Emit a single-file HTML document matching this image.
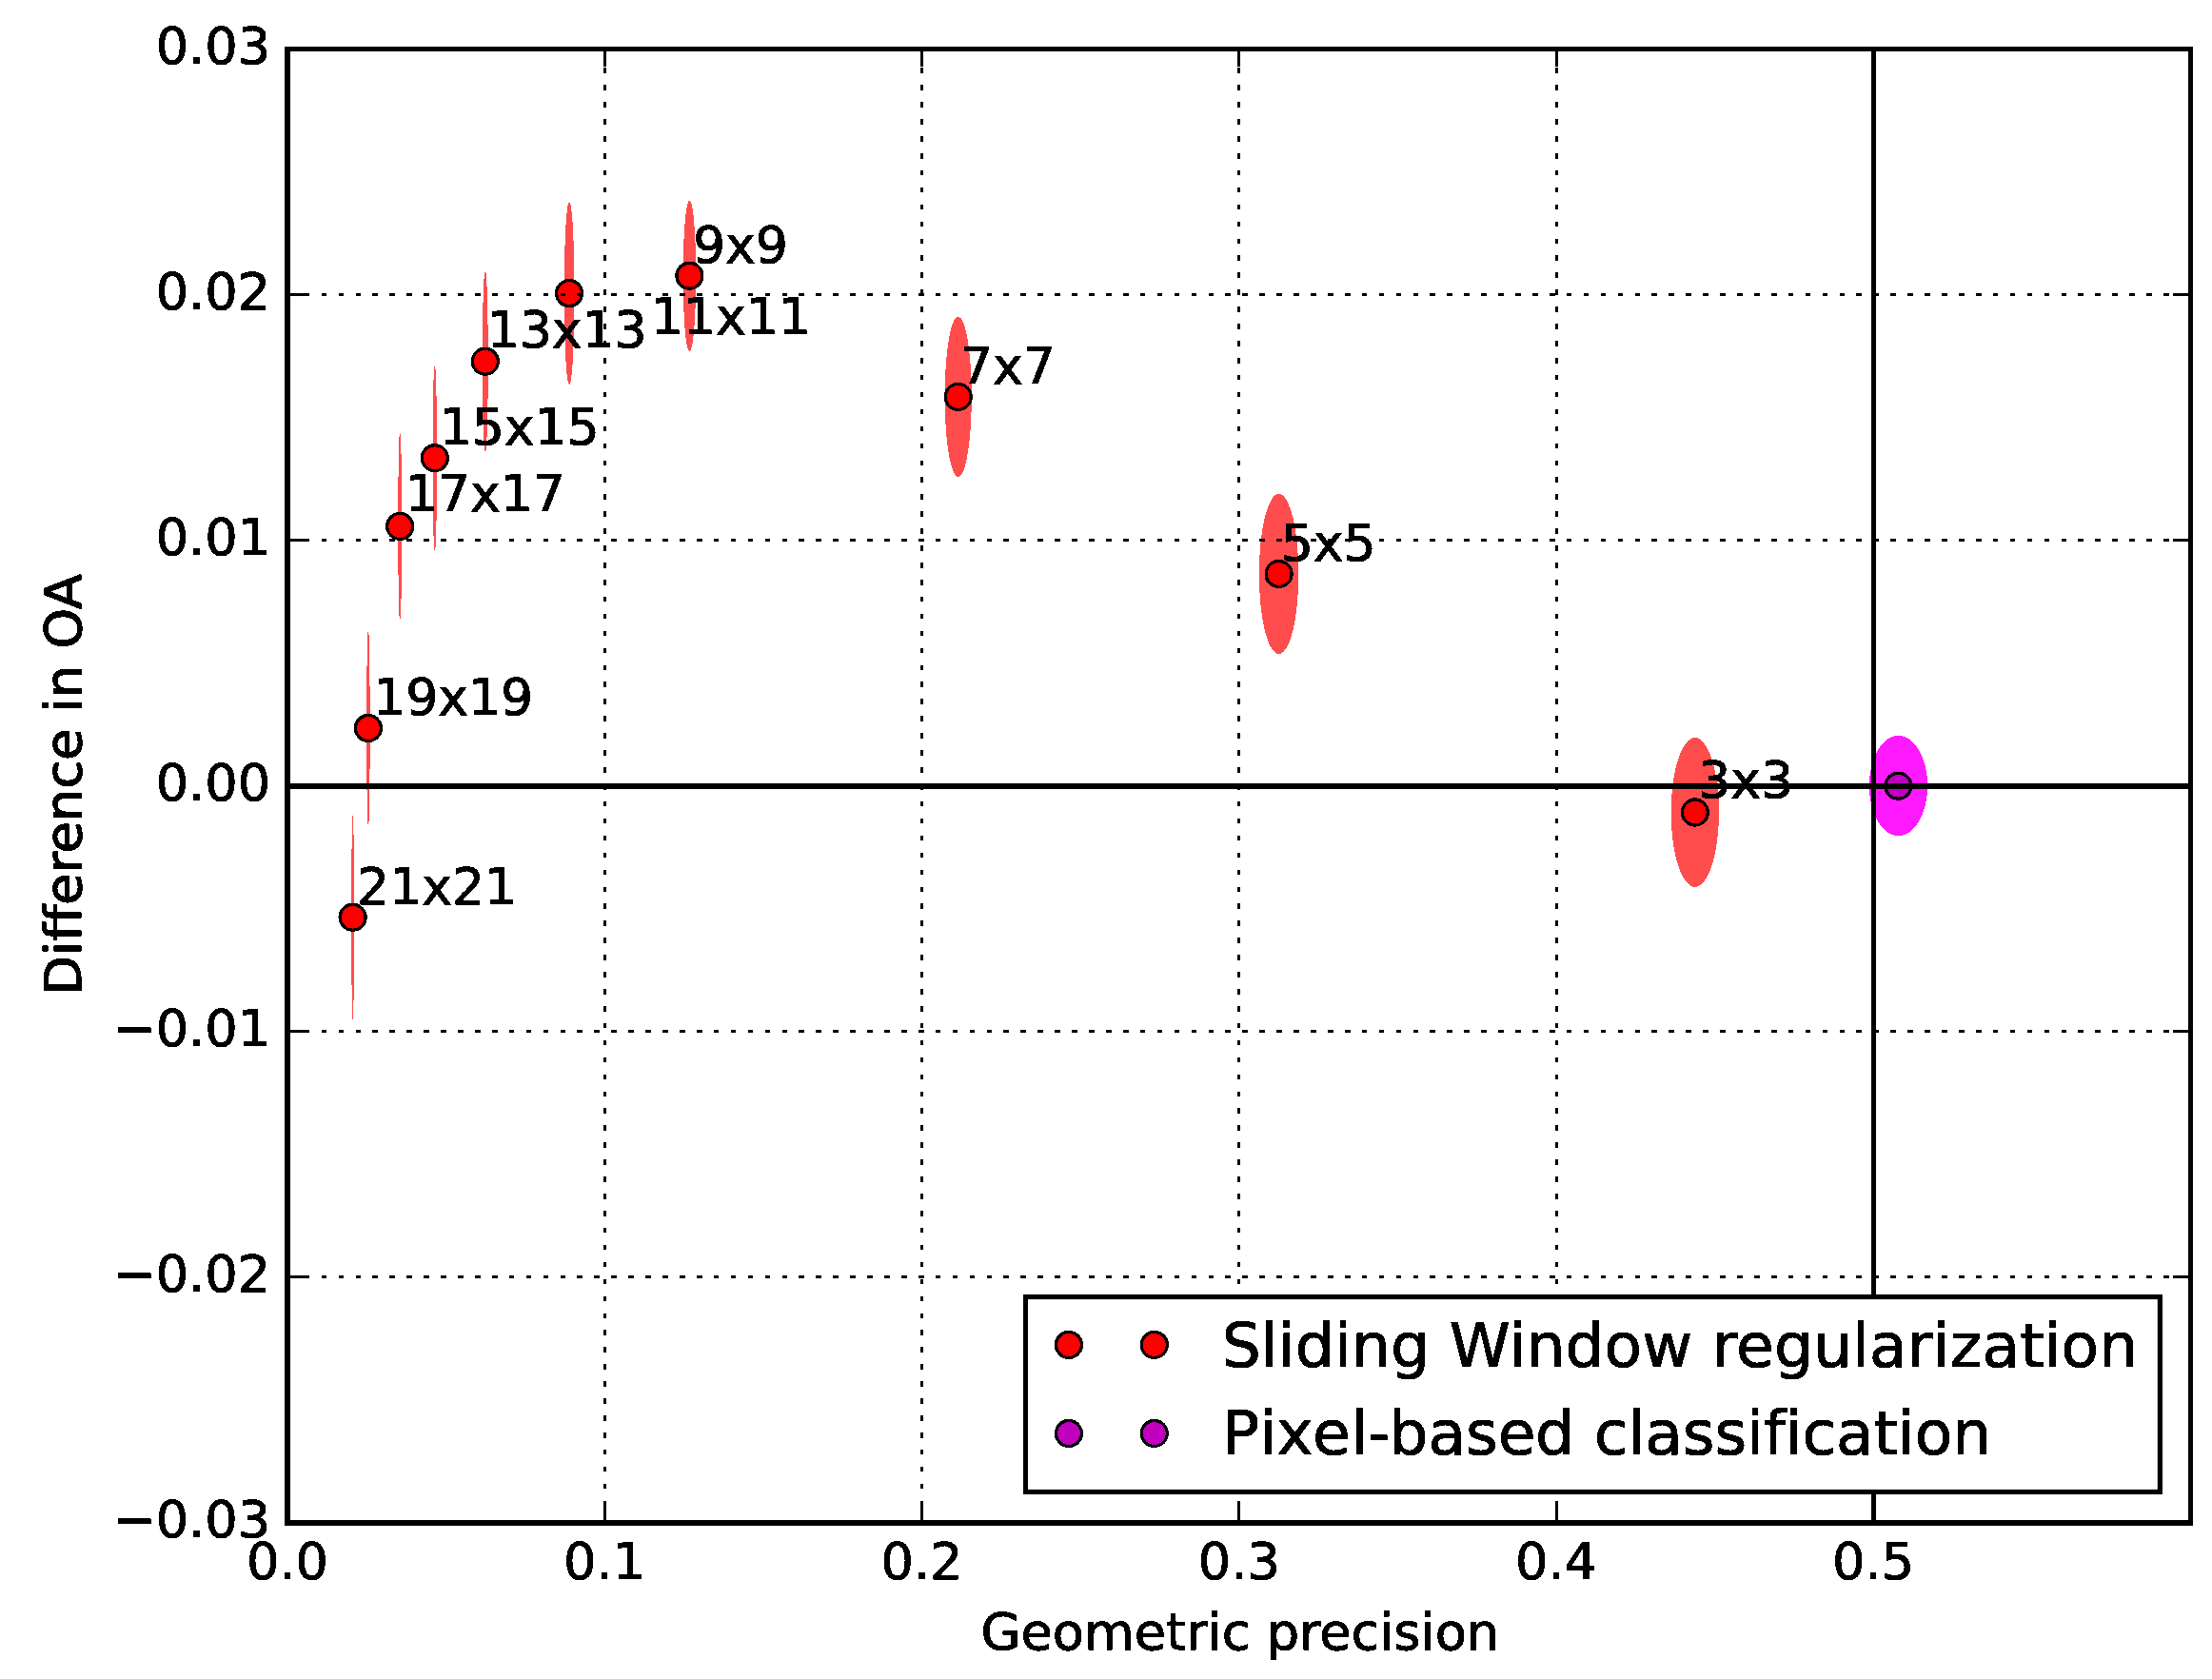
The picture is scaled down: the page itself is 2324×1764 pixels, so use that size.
<!DOCTYPE html>
<html lang="en"><head><meta charset="utf-8"><title>Difference in OA vs Geometric precision</title>
<style>html,body{margin:0;padding:0;background:#fff}body{width:2324px;height:1764px;overflow:hidden}svg{display:block}text{font-family:"DejaVu Sans", "Liberation Sans", sans-serif;fill:#000;stroke:#000;stroke-width:0.7px;stroke-linejoin:miter;font-variant-ligatures:none;font-feature-settings:"liga" 0,"clig" 0}</style>
</head><body>
<svg width="2324" height="1764" viewBox="0 0 2324 1764">
<rect x="0" y="0" width="2324" height="1764" fill="#fff"/>
<defs><filter id="bin" x="0" y="0" width="2324" height="1764" filterUnits="userSpaceOnUse" color-interpolation-filters="sRGB"><feComponentTransfer><feFuncA type="discrete" tableValues="0 0 1 1 1 1"/></feComponentTransfer></filter></defs>
<g id="ellipses" filter="url(#bin)">
<ellipse cx="370.6" cy="963.8" rx="1.25" ry="108.0" fill="#ff4d4d"/>
<ellipse cx="386.9" cy="765.0" rx="1.60" ry="102.0" fill="#ff4d4d"/>
<ellipse cx="420.2" cy="552.9" rx="1.80" ry="98.0" fill="#ff4d4d"/>
<ellipse cx="456.8" cy="481.3" rx="2.10" ry="96.8" fill="#ff4d4d"/>
<ellipse cx="509.8" cy="379.8" rx="2.80" ry="94.5" fill="#ff4d4d"/>
<ellipse cx="598.1" cy="308.1" rx="5.20" ry="95.7" fill="#ff4d4d"/>
<ellipse cx="724.4" cy="289.8" rx="6.60" ry="79.0" fill="#ff4d4d"/>
<ellipse cx="1006.7" cy="416.9" rx="13.90" ry="84.0" fill="#ff4d4d"/>
<ellipse cx="1343.6" cy="603.0" rx="20.55" ry="84.0" fill="#ff4d4d"/>
<ellipse cx="1780.8" cy="853.5" rx="25.00" ry="78.2" fill="#ff4d4d"/>
<ellipse cx="1994.5" cy="825.5" rx="30.5" ry="52.4" fill="#ff19ff"/>
</g>
<g id="markerfill" filter="url(#bin)">
<circle cx="370.6" cy="963.8" r="13.5" fill="#ff0000"/>
<circle cx="386.9" cy="765.0" r="13.5" fill="#ff0000"/>
<circle cx="420.2" cy="552.9" r="13.5" fill="#ff0000"/>
<circle cx="456.8" cy="481.3" r="13.5" fill="#ff0000"/>
<circle cx="509.8" cy="379.8" r="13.5" fill="#ff0000"/>
<circle cx="598.1" cy="308.1" r="13.5" fill="#ff0000"/>
<circle cx="724.4" cy="289.8" r="13.5" fill="#ff0000"/>
<circle cx="1006.7" cy="416.9" r="13.5" fill="#ff0000"/>
<circle cx="1343.6" cy="603.0" r="13.5" fill="#ff0000"/>
<circle cx="1780.8" cy="853.5" r="13.5" fill="#ff0000"/>
<circle cx="1994.4" cy="825.7" r="13.5" fill="#bf00bf"/>
</g>
<g id="markeredge" fill="none" stroke="#000" stroke-width="2.9" filter="url(#bin)">
<circle cx="370.6" cy="963.8" r="13.5"/>
<circle cx="386.9" cy="765.0" r="13.5"/>
<circle cx="420.2" cy="552.9" r="13.5"/>
<circle cx="456.8" cy="481.3" r="13.5"/>
<circle cx="509.8" cy="379.8" r="13.5"/>
<circle cx="598.1" cy="308.1" r="13.5"/>
<circle cx="724.4" cy="289.8" r="13.5"/>
<circle cx="1006.7" cy="416.9" r="13.5"/>
<circle cx="1343.6" cy="603.0" r="13.5"/>
<circle cx="1780.8" cy="853.5" r="13.5"/>
<circle cx="1994.4" cy="825.7" r="13.5"/>
</g>
<g id="reflines" stroke="#000" filter="url(#bin)">
<line x1="302.0" y1="825.9" x2="2301.5" y2="825.9" stroke-width="5.8"/>
<line x1="1968.2" y1="51.4" x2="1968.2" y2="1600.0" stroke-width="5"/>
</g>
<g id="grid" stroke="#000" stroke-width="3" stroke-dasharray="5.3 12.62" filter="url(#bin)">
<line x1="635.50" y1="1600.0" x2="635.50" y2="51.4"/>
<line x1="968.50" y1="1600.0" x2="968.50" y2="51.4"/>
<line x1="1301.50" y1="1600.0" x2="1301.50" y2="51.4"/>
<line x1="1635.50" y1="1600.0" x2="1635.50" y2="51.4"/>
<line x1="1968.50" y1="1600.0" x2="1968.50" y2="51.4"/>
<line x1="302.0" y1="1341.50" x2="2301.5" y2="1341.50"/>
<line x1="302.0" y1="1083.50" x2="2301.5" y2="1083.50"/>
<line x1="302.0" y1="825.50" x2="2301.5" y2="825.50"/>
<line x1="302.0" y1="567.50" x2="2301.5" y2="567.50"/>
<line x1="302.0" y1="309.50" x2="2301.5" y2="309.50"/>
</g>
<g id="ticks" stroke="#000" stroke-width="3" filter="url(#bin)">
<line x1="302.50" y1="1600.0" x2="302.50" y2="1582.0"/>
<line x1="302.50" y1="51.4" x2="302.50" y2="69.4"/>
<line x1="635.50" y1="1600.0" x2="635.50" y2="1582.0"/>
<line x1="635.50" y1="51.4" x2="635.50" y2="69.4"/>
<line x1="968.50" y1="1600.0" x2="968.50" y2="1582.0"/>
<line x1="968.50" y1="51.4" x2="968.50" y2="69.4"/>
<line x1="1301.50" y1="1600.0" x2="1301.50" y2="1582.0"/>
<line x1="1301.50" y1="51.4" x2="1301.50" y2="69.4"/>
<line x1="1635.50" y1="1600.0" x2="1635.50" y2="1582.0"/>
<line x1="1635.50" y1="51.4" x2="1635.50" y2="69.4"/>
<line x1="1968.50" y1="1600.0" x2="1968.50" y2="1582.0"/>
<line x1="1968.50" y1="51.4" x2="1968.50" y2="69.4"/>
<line x1="2301.50" y1="1600.0" x2="2301.50" y2="1582.0"/>
<line x1="2301.50" y1="51.4" x2="2301.50" y2="69.4"/>
<line x1="302.0" y1="1600.50" x2="320.0" y2="1600.50"/>
<line x1="2301.5" y1="1600.50" x2="2283.5" y2="1600.50"/>
<line x1="302.0" y1="1341.50" x2="320.0" y2="1341.50"/>
<line x1="2301.5" y1="1341.50" x2="2283.5" y2="1341.50"/>
<line x1="302.0" y1="1083.50" x2="320.0" y2="1083.50"/>
<line x1="2301.5" y1="1083.50" x2="2283.5" y2="1083.50"/>
<line x1="302.0" y1="825.50" x2="320.0" y2="825.50"/>
<line x1="2301.5" y1="825.50" x2="2283.5" y2="825.50"/>
<line x1="302.0" y1="567.50" x2="320.0" y2="567.50"/>
<line x1="2301.5" y1="567.50" x2="2283.5" y2="567.50"/>
<line x1="302.0" y1="309.50" x2="320.0" y2="309.50"/>
<line x1="2301.5" y1="309.50" x2="2283.5" y2="309.50"/>
<line x1="302.0" y1="51.50" x2="320.0" y2="51.50"/>
<line x1="2301.5" y1="51.50" x2="2283.5" y2="51.50"/>
</g>
<g id="annotations" font-size="53.8" letter-spacing="-0.15" filter="url(#bin)">
<text x="375.1" y="950.3">21x21</text>
<text x="392.2" y="751.0">19x19</text>
<text x="425.9" y="537.4">17x17</text>
<text x="461.7" y="466.5">15x15</text>
<text x="511.7" y="365.2">13x13</text>
<text x="683.8" y="351.2">11x11</text>
<text x="728.0" y="276.0">9x9</text>
<text x="1009.0" y="403.3">7x7</text>
<text x="1345.8" y="588.7">5x5</text>
<text x="1784.2" y="838.4">3x3</text>
</g>
<rect x="302.0" y="51.4" width="1999.5" height="1548.6" fill="none" stroke="#000" stroke-width="5.4" filter="url(#bin)"/>
<g id="labels" filter="url(#bin)">
<g id="xticklabels" font-size="54.2" text-anchor="middle">
<text x="302.0" y="1659.3">0.0</text>
<text x="635.2" y="1659.3">0.1</text>
<text x="968.5" y="1659.3">0.2</text>
<text x="1301.8" y="1659.3">0.3</text>
<text x="1635.0" y="1659.3">0.4</text>
<text x="1968.2" y="1659.3">0.5</text>
</g>
<g id="yticklabels" font-size="54.2" text-anchor="end">
<text x="284.3" y="66.8">0.03</text>
<text x="284.3" y="324.9">0.02</text>
<text x="284.3" y="583.0">0.01</text>
<text x="284.3" y="841.1">0.00</text>
<text x="284.3" y="1099.2">−0.01</text>
<text x="284.3" y="1357.3">−0.02</text>
<text x="284.3" y="1615.4">−0.03</text>
</g>
<text x="1302.8" y="1732.7" font-size="54.2" text-anchor="middle">Geometric precision</text>
<text transform="translate(85.3 824.4) rotate(-90)" font-size="54.2" text-anchor="middle">Difference in OA</text>
</g>
<g id="legend">
<rect x="1077.5" y="1362.6" width="1191.8" height="204.8" fill="#fff" stroke="#000" stroke-width="5" filter="url(#bin)"/>
<g filter="url(#bin)">
<circle cx="1122.9" cy="1412.9" r="13.5" fill="#ff0000"/>
<circle cx="1122.9" cy="1506.0" r="13.5" fill="#bf00bf"/>
<circle cx="1212.8" cy="1412.9" r="13.5" fill="#ff0000"/>
<circle cx="1212.8" cy="1506.0" r="13.5" fill="#bf00bf"/>
</g>
<g fill="none" stroke="#000" stroke-width="2.9" filter="url(#bin)">
<circle cx="1122.9" cy="1412.9" r="13.5"/>
<circle cx="1122.9" cy="1506.0" r="13.5"/>
<circle cx="1212.8" cy="1412.9" r="13.5"/>
<circle cx="1212.8" cy="1506.0" r="13.5"/>
</g>
<g id="legendtext" font-size="64.8" filter="url(#bin)">
<text x="1283.7" y="1435.6">Sliding Window regularization</text>
<text x="1284.0" y="1528.3" dx="0 1.9 -0.4 1.5 0.7 -0.6 -1.2 0.2 -0.2 0 -0.6 0 0 -0.146 -0.146 -0.146 -0.146 -0.146 -0.146 -0.146 -0.146 -0.146 -0.146 -0.146 -0.146 -0.146">Pixel-based classification</text>
</g>
</g>
</svg>
</body></html>
